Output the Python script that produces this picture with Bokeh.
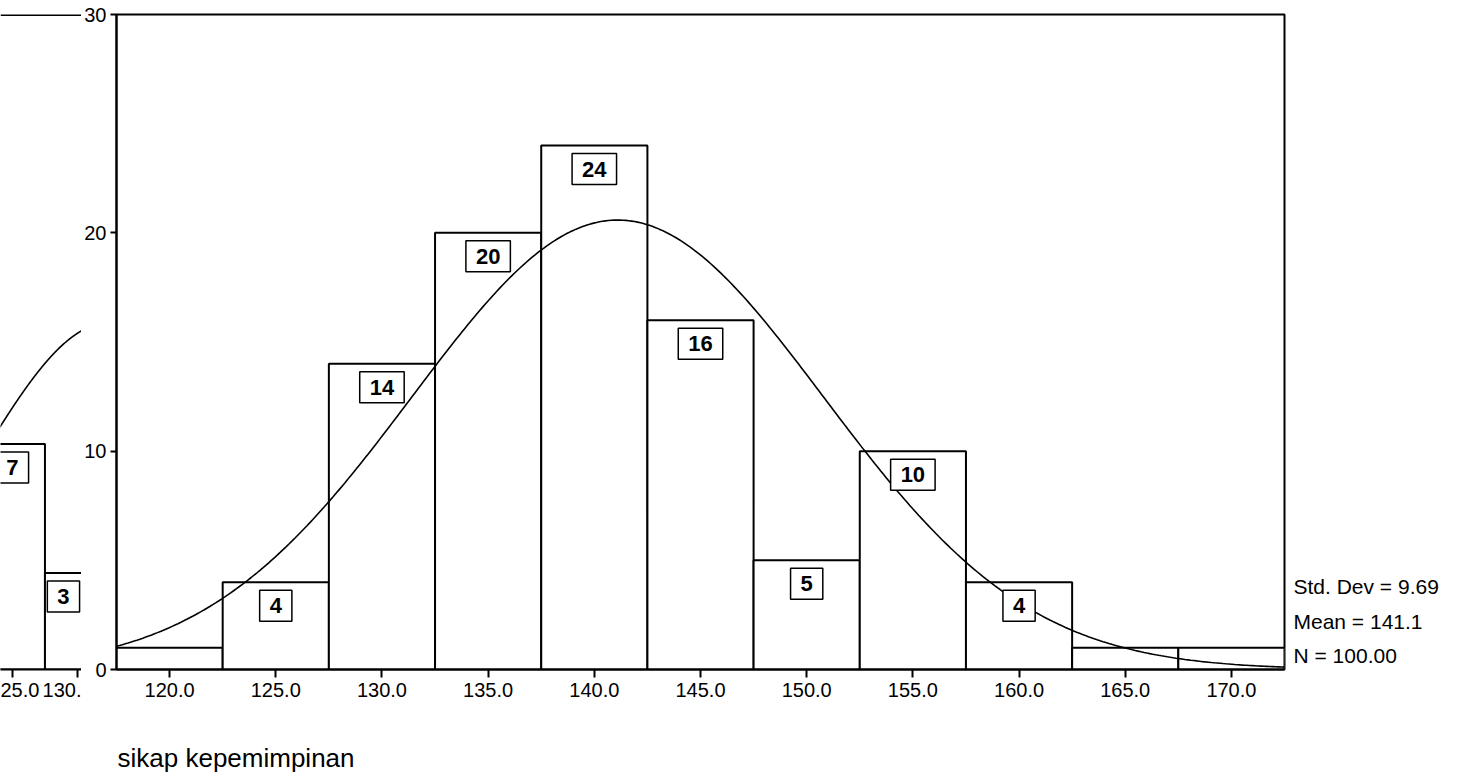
import numpy as np
from bokeh.plotting import figure
from bokeh.layouts import row, column
from bokeh.models import FixedTicker, Span, ColumnDataSource, Range1d
from bokeh.core.properties import value
from bokeh.embed import file_html
from bokeh.resources import INLINE

# ---- main histogram data ----
bin_centers = [120, 125, 130, 135, 140, 145, 150, 155, 160, 165, 170]
counts = [1, 4, 14, 20, 24, 16, 5, 10, 4, 1, 1]
bin_width = 5.0
std_dev = 9.69
mean_val = 141.1
n_total = 100
x_ticks = [120, 125, 130, 135, 140, 145, 150, 155, 160, 165, 170]
y_ticks = [0, 10, 20, 30]
x_title = "sikap kepemimpinan"
stats_lines = ["Std. Dev = 9.69", "Mean = 141.1", "N = 100.00"]

# ---- partially visible neighbouring histogram (left edge of the scan) ----
frag_centers = [125, 130]
frag_counts = [7, 3]
frag_mean = 132.5
frag_sd = 10.0
frag_n = 54
frag_ticks = [125, 130]
frag_tick_text = ["25.0", "130."]   # as visible in the cropped scan

FONT = "Liberation Sans"
H = 716           # height of the chart row
BOTTOM_H = 62     # strip below holding the variable name
FRAG_W = 81
MAIN_W = 1205
STATS_W = 165
TOP = 14
MAIN_FRAME_H = 655
FRAG_FRAME_H = 661


def normal_curve(lo, hi, mu, sd, n, bw):
    xs = np.linspace(lo, hi, 400)
    ys = n * bw / (sd * np.sqrt(2 * np.pi)) * np.exp(-((xs - mu) ** 2) / (2 * sd ** 2))
    return xs, ys


def style_xaxis(p, ticks, labels):
    p.xaxis.ticker = FixedTicker(ticks=ticks)
    p.xaxis.major_label_overrides = dict(zip(ticks, labels))
    p.xaxis.minor_tick_line_color = None
    p.xaxis.major_tick_in = 0
    p.xaxis.major_tick_out = 8
    p.xaxis.major_tick_line_width = 2
    p.xaxis.axis_line_width = 2
    p.xaxis.major_label_text_font = FONT
    p.xaxis.major_label_text_font_size = "20px"
    p.xaxis.major_label_text_color = "black"
    p.xaxis.major_label_standoff = 5


def add_count_boxes(p, centers, cnts, xoffs=None):
    keep = [(i, c, k) for i, (c, k) in enumerate(zip(centers, cnts)) if k >= 2]
    offs = [0 if xoffs is None else xoffs[i] for i, _, _ in keep]
    src = ColumnDataSource(dict(x=[c for _, c, _ in keep], y=[k for _, _, k in keep],
                                text=[str(k) for _, _, k in keep], xo=offs))
    p.text(x="x", y="y", text="text", source=src, x_offset="xo", text_align="center",
           text_baseline="top", y_offset=8, text_font=value(FONT),
           text_font_size="22px", text_font_style="bold", text_color="black",
           border_line_color="black", border_line_width=1.5,
           background_fill_color="white",
           padding=dict(left=10, right=10, top=8, bottom=8))


# ---------------- fragment figure ----------------
frag_x0 = 124.08
frag_px_per_unit = 13.0
frag_top = FRAG_FRAME_H / 32.5
frag = figure(width=FRAG_W, height=H, output_backend="svg", toolbar_location=None,
              x_range=Range1d(frag_x0, frag_x0 + FRAG_W / frag_px_per_unit),
              y_range=Range1d(0, frag_top),
              min_border_left=0, min_border_right=0, min_border_top=TOP,
              min_border_bottom=H - TOP - FRAG_FRAME_H)
frag.outline_line_color = None
frag.grid.visible = False
frag.yaxis.visible = False
frag.quad(left=[c - bin_width / 2 for c in frag_centers],
          right=[c + bin_width / 2 for c in frag_centers],
          top=frag_counts, bottom=0, fill_color="white", line_color="black", line_width=2)
fx, fy = normal_curve(frag_x0 - 1, frag_x0 + FRAG_W / frag_px_per_unit + 1,
                      frag_mean, frag_sd, frag_n, bin_width)
frag.line(fx, fy, line_color="black", line_width=1.6)
add_count_boxes(frag, frag_centers, frag_counts, xoffs=[0, -14])
style_xaxis(frag, frag_ticks, frag_tick_text)
frag.add_layout(Span(location=frag_top, dimension="width", line_color="black", line_width=3))

# ---------------- main figure ----------------
p = figure(width=MAIN_W, height=H, output_backend="svg", toolbar_location=None,
           x_range=Range1d(117.5, 172.5), y_range=Range1d(0, 30),
           min_border_left=0, min_border_right=2, min_border_top=TOP,
           min_border_bottom=H - TOP - MAIN_FRAME_H)
p.grid.visible = False
p.outline_line_color = "black"
p.outline_line_width = 2

p.quad(left=[c - bin_width / 2 for c in bin_centers],
       right=[c + bin_width / 2 for c in bin_centers],
       top=counts, bottom=0, fill_color="white", line_color="black", line_width=2)

cx, cy = normal_curve(117.5, 172.5, mean_val, std_dev, n_total, bin_width)
p.line(cx, cy, line_color="black", line_width=1.6)

add_count_boxes(p, bin_centers, counts)

style_xaxis(p, x_ticks, [f"{t:.1f}" for t in x_ticks])
p.yaxis.ticker = FixedTicker(ticks=y_ticks)
p.yaxis.minor_tick_line_color = None
p.yaxis.major_tick_in = 0
p.yaxis.major_tick_out = 6
p.yaxis.major_tick_line_width = 2
p.yaxis.axis_line_width = 2
p.yaxis.major_label_text_font = FONT
p.yaxis.major_label_text_font_size = "20px"
p.yaxis.major_label_text_color = "black"
p.yaxis.major_label_standoff = 4

# ---------------- stats text panel ----------------
s = figure(width=STATS_W, height=H, output_backend="svg", toolbar_location=None,
           x_range=Range1d(0, STATS_W), y_range=Range1d(0, 30),
           min_border_left=0, min_border_right=0, min_border_top=TOP,
           min_border_bottom=H - TOP - MAIN_FRAME_H)
s.axis.visible = False
s.grid.visible = False
s.outline_line_color = None
s.text(x=[0] * len(stats_lines), y=[3.8, 2.2, 0.64], text=stats_lines, x_offset=7,
       text_font=value(FONT), text_font_size="21px", text_baseline="middle",
       text_color="black")

# ---------------- strip below with the variable name ----------------
total_w = FRAG_W + MAIN_W + STATS_W
b = figure(width=total_w, height=BOTTOM_H, output_backend="svg", toolbar_location=None,
           x_range=Range1d(0, total_w), y_range=Range1d(BOTTOM_H, 0),
           min_border=0)
b.axis.visible = False
b.grid.visible = False
b.outline_line_color = None
b.text(x=[117], y=[41], text=[x_title], text_font=value(FONT), text_font_size="26px",
       text_baseline="middle", text_align="left", text_color="black")

layout = column(row(frag, p, s), b)
open("out.html", "w").write(file_html(layout, INLINE))
